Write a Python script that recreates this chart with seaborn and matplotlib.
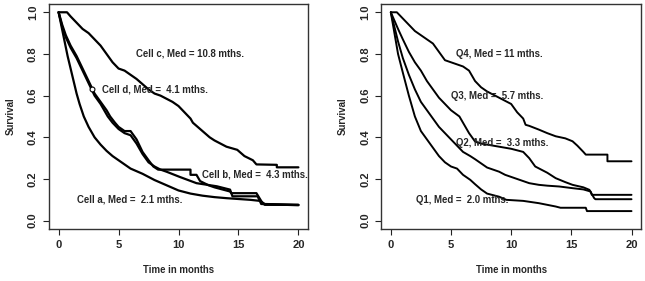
import matplotlib
matplotlib.use("Agg")
import matplotlib.pyplot as plt
import seaborn as sns

# ---- left panel: cell types (time in months, survival) ----
cell_a_t = [0, 0.25, 0.5, 0.75, 1, 1.25, 1.5, 1.75, 2.1, 2.5, 3, 3.5, 4, 4.5, 5, 5.5, 6, 7, 8, 9,
            10, 11, 12, 13, 14, 15, 16, 16.8, 17.2, 20]
cell_a_s = [1.0, 0.93, 0.86, 0.79, 0.73, 0.67, 0.61, 0.56, 0.5, 0.45, 0.4, 0.365, 0.335, 0.31, 0.29,
            0.27, 0.25, 0.225, 0.195, 0.17, 0.145, 0.13, 0.12, 0.113, 0.108, 0.104, 0.1, 0.095, 0.08, 0.076]

cell_b_t = [0, 0.3, 0.6, 1, 1.5, 2, 2.5, 3, 3.5, 4, 4.3, 4.7, 5, 5.5, 6, 6.5, 7, 7.5, 7.9, 8.3, 11,
            11, 11.5, 11.8, 12.5, 13, 14.3, 14.4, 16.5, 17, 17.2, 20]
cell_b_s = [1.0, 0.94, 0.89, 0.84, 0.79, 0.73, 0.67, 0.61, 0.57, 0.53, 0.5, 0.47, 0.45, 0.43, 0.43,
            0.39, 0.33, 0.29, 0.26, 0.245, 0.245, 0.22, 0.22, 0.19, 0.17, 0.16, 0.14, 0.132, 0.132,
            0.085, 0.076, 0.076]

cell_c_t = [0, 0.7, 1, 1.5, 2, 2.5, 3, 3.5, 4, 4.5, 5, 5.5, 6, 6.5, 7, 7.5, 8, 8.5, 9, 9.5, 10, 10.5,
            11, 11.2, 12, 12.6, 13, 14, 14.9, 15.5, 16.2, 16.5, 18.2, 18.2, 20]
cell_c_s = [1.0, 1.0, 0.98, 0.95, 0.92, 0.9, 0.87, 0.84, 0.8, 0.76, 0.73, 0.72, 0.7, 0.68, 0.655,
            0.63, 0.61, 0.6, 0.585, 0.57, 0.55, 0.52, 0.49, 0.47, 0.43, 0.4, 0.385, 0.355, 0.34, 0.31,
            0.29, 0.27, 0.268, 0.256, 0.256]

cell_d_t = [0, 0.3, 0.6, 1, 1.5, 2, 2.5, 3, 3.5, 4.1, 4.5, 5, 5.5, 6, 6.5, 7, 7.5, 8, 8.5, 9, 10.1,
            11.5, 13.2, 14.3, 14.5, 16.6, 16.9, 20]
cell_d_s = [1.0, 0.93, 0.88, 0.83, 0.78, 0.72, 0.66, 0.6, 0.56, 0.5, 0.47, 0.44, 0.42, 0.41, 0.37,
            0.32, 0.28, 0.26, 0.245, 0.235, 0.21, 0.18, 0.165, 0.149, 0.117, 0.117, 0.08, 0.074]
cell_d_mark = (2.75, 0.634)

# ---- right panel: quartiles ----
q1_t = [0, 0.3, 0.6, 1, 1.5, 2, 2.5, 3, 3.5, 4, 4.5, 5, 5.5, 6, 6.6, 7, 7.5, 8, 9, 9.6, 11, 12.3,
        13.7, 14.1, 16.2, 16.3, 20]
q1_s = [1.0, 0.9, 0.8, 0.71, 0.6, 0.5, 0.43, 0.39, 0.35, 0.31, 0.28, 0.26, 0.25, 0.22, 0.196, 0.175,
        0.15, 0.13, 0.115, 0.1, 0.095, 0.084, 0.068, 0.062, 0.062, 0.046, 0.046]

q2_t = [0, 0.3, 0.6, 1, 1.5, 2, 2.5, 3, 3.5, 4, 4.5, 5, 5.5, 6, 6.6, 7, 7.5, 8, 8.5, 9, 9.5, 10,
        10.5, 11, 11.5, 12.3, 13, 14, 15.1, 16, 16.6, 16.7, 20]
q2_s = [1.0, 0.93, 0.86, 0.78, 0.7, 0.63, 0.57, 0.53, 0.49, 0.45, 0.42, 0.39, 0.36, 0.33, 0.31,
        0.295, 0.275, 0.255, 0.245, 0.235, 0.22, 0.21, 0.2, 0.19, 0.18, 0.172, 0.168, 0.164, 0.156,
        0.15, 0.14, 0.124, 0.124]

q3_t = [0, 0.3, 0.6, 1, 1.5, 2, 2.5, 3, 3.5, 4, 4.5, 5, 5.7, 6, 6.5, 7, 7.5, 8, 9, 10, 11, 11.5, 12,
        12.5, 13, 13.7, 14.5, 15.1, 16, 16.5, 16.9, 17, 20]
q3_s = [1.0, 0.96, 0.92, 0.87, 0.81, 0.76, 0.72, 0.67, 0.63, 0.59, 0.56, 0.53, 0.5, 0.47, 0.42,
        0.38, 0.37, 0.365, 0.355, 0.345, 0.33, 0.3, 0.26, 0.245, 0.23, 0.204, 0.185, 0.172, 0.16,
        0.148, 0.108, 0.103, 0.103]

q4_t = [0, 0.5, 1, 1.5, 2, 2.5, 3, 3.5, 4, 4.5, 5, 5.5, 6, 6.5, 7, 7.5, 8, 8.5, 9, 9.5, 10, 10.5, 11,
        11.2, 11.5, 12.3, 13, 13.7, 14.5, 15.1, 15.5, 16, 16.2, 18, 18, 20]
q4_s = [1.0, 1.0, 0.97, 0.94, 0.91, 0.89, 0.87, 0.85, 0.81, 0.77, 0.76, 0.75, 0.74, 0.72, 0.67,
        0.64, 0.62, 0.605, 0.59, 0.575, 0.56, 0.52, 0.49, 0.46, 0.455, 0.437, 0.42, 0.405, 0.395,
        0.381, 0.36, 0.33, 0.317, 0.317, 0.285, 0.285]

left_labels = ["Cell c, Med = 10.8 mths.", "Cell d, Med =  4.1 mths.",
               "Cell b, Med =  4.3 mths.", "Cell a, Med =  2.1 mths."]
left_label_pos = [(11.0, 0.80), (8.0, 0.63), (16.4, 0.223), (5.95, 0.10)]
right_labels = ["Q4, Med = 11 mths.", "Q3, Med =  5.7 mths.",
                "Q2, Med =  3.3 mths.", "Q1, Med =  2.0 mths."]
right_label_pos = [(9.0, 0.80), (8.86, 0.598), (9.25, 0.373), (5.9, 0.10)]

sns.set_style("ticks")
plt.rcParams['font.family'] = ['Liberation Sans', 'DejaVu Sans']
plt.rcParams['font.weight'] = 'bold'

fig = plt.figure(figsize=(6.45, 2.81), dpi=100)
ax1 = fig.add_axes([0.076, 0.185, 0.4015, 0.801])
ax2 = fig.add_axes([0.591, 0.185, 0.403, 0.801])


def draw_panel(ax, curves, labels, label_pos, lw):
    for t, s in curves:
        sns.lineplot(x=t, y=s, estimator=None, sort=False, color='black', lw=lw, ax=ax)
    for txt, (x, y) in zip(labels, label_pos):
        ax.text(x, y, txt, ha='center', va='center', fontsize=6.9, fontweight='bold')
    ax.set_xlim(-0.8, 20.8)
    ax.set_ylim(-0.04, 1.04)
    ax.set_xticks([0, 5, 10, 15, 20])
    ax.set_yticks([0.0, 0.2, 0.4, 0.6, 0.8, 1.0])
    ax.set_yticklabels(["0.0", "0.2", "0.4", "0.6", "0.8", "1.0"], rotation=90, va='center')
    ax.tick_params(labelsize=8, length=4, width=0.8, color='#222222', pad=4)
    for sp in ax.spines.values():
        sp.set_visible(True)
        sp.set_color('#333333')
        sp.set_linewidth(1.0)
    ax.set_xlabel("Time in months", fontsize=6.9, fontweight='bold', labelpad=11)
    ax.set_ylabel("Survival", fontsize=6.9, fontweight='bold', labelpad=9)


draw_panel(ax1, [(cell_a_t, cell_a_s), (cell_b_t, cell_b_s), (cell_c_t, cell_c_s), (cell_d_t, cell_d_s)],
           left_labels, left_label_pos, 1.6)
ax1.plot([cell_d_mark[0]], [cell_d_mark[1]], marker='o', ms=3.5, mfc='white', mec='black', mew=0.8)

draw_panel(ax2, [(q1_t, q1_s), (q2_t, q2_s), (q3_t, q3_s), (q4_t, q4_s)],
           right_labels, right_label_pos, 1.4)

fig.savefig("out.png", dpi=100)
